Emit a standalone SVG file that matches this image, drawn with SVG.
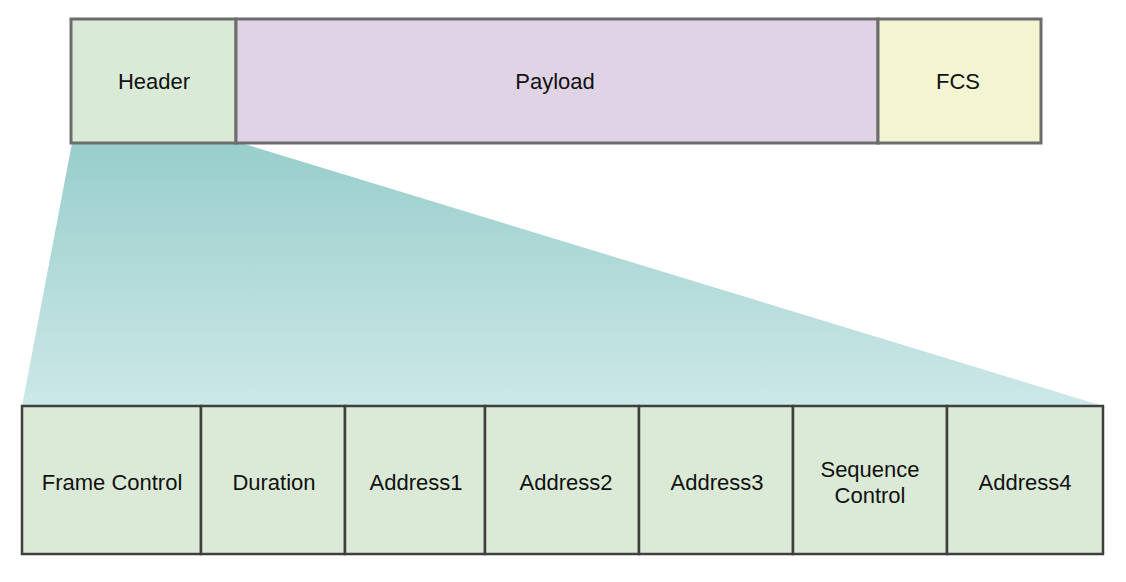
<svg xmlns="http://www.w3.org/2000/svg" width="1126" height="582" viewBox="0 0 1126 582">
  <defs>
    <linearGradient id="fan" x1="0" y1="0" x2="0" y2="1">
      <stop offset="0" stop-color="#98cecb"/>
      <stop offset="1" stop-color="#cde8e8"/>
    </linearGradient>
  </defs>
  <style>
    .lbl { font-family: "Liberation Sans", Arial, sans-serif; font-size: 22px; fill: #111; text-anchor: middle; }
    .top { stroke: #6d6d6d; stroke-width: 3; }
    .fld { fill: #dbead7; stroke: #3f3f3f; stroke-width: 2.5; }
  </style>
  <rect width="1126" height="582" fill="#ffffff"/>
  <g id="connectors">
    <polygon points="72,143 241,143 1103,406 22,406" fill="url(#fan)"/>
  </g>
  <g id="header">
    <rect class="top" x="71" y="19" width="165" height="124" fill="#d9ead7"/>
    <text class="lbl" x="154" y="89">Header</text>
  </g>
  <g id="payload">
    <rect class="top" x="236" y="19" width="642" height="124" fill="#e0d3e6"/>
    <text class="lbl" x="555" y="89">Payload</text>
  </g>
  <g id="fcs">
    <rect class="top" x="878" y="19" width="163" height="124" fill="#f2f4d2"/>
    <text class="lbl" x="958" y="89">FCS</text>
  </g>
  <g id="frame-control">
    <rect class="fld" x="22" y="406" width="179" height="148"/>
    <text class="lbl" x="112" y="490">Frame Control</text>
  </g>
  <g id="duration">
    <rect class="fld" x="201" y="406" width="144" height="148"/>
    <text class="lbl" x="274" y="490">Duration</text>
  </g>
  <g id="address1">
    <rect class="fld" x="345" y="406" width="140" height="148"/>
    <text class="lbl" x="416" y="490">Address1</text>
  </g>
  <g id="address2">
    <rect class="fld" x="485" y="406" width="154" height="148"/>
    <text class="lbl" x="566" y="490">Address2</text>
  </g>
  <g id="address3">
    <rect class="fld" x="639" y="406" width="154" height="148"/>
    <text class="lbl" x="717" y="490">Address3</text>
  </g>
  <g id="sequence-control">
    <rect class="fld" x="793" y="406" width="154" height="148"/>
    <text class="lbl" x="870" y="477">Sequence</text>
    <text class="lbl" x="870" y="503">Control</text>
  </g>
  <g id="address4">
    <rect class="fld" x="947" y="406" width="156" height="148"/>
    <text class="lbl" x="1025" y="490">Address4</text>
  </g>
</svg>
